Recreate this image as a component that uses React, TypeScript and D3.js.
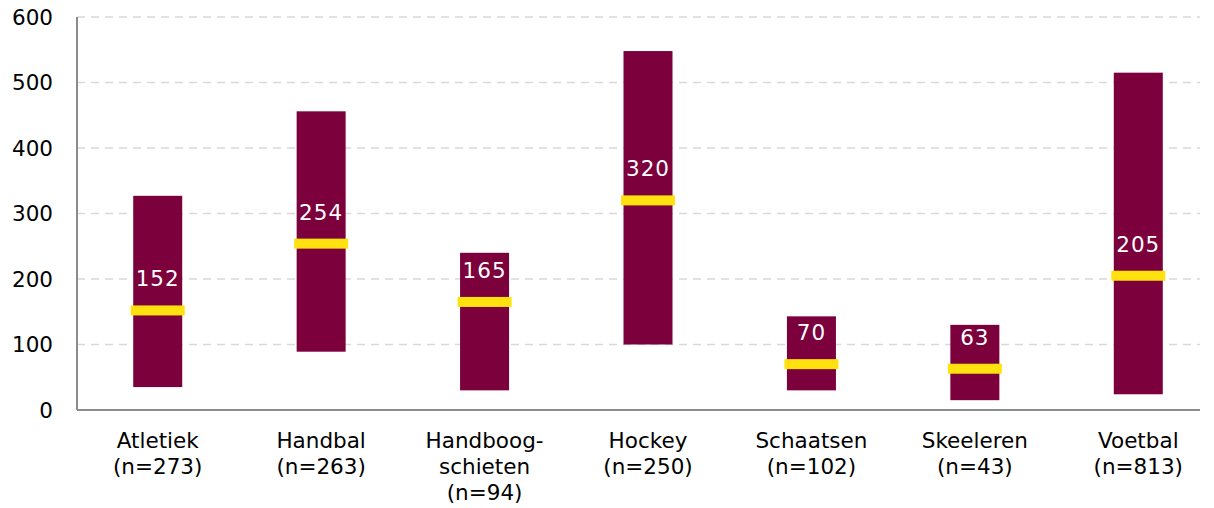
import React from "react";
import * as d3 from "d3";

const categories = [
  ["Atletiek", "(n=273)"],
  ["Handbal", "(n=263)"],
  ["Handboog-", "schieten", "(n=94)"],
  ["Hockey", "(n=250)"],
  ["Schaatsen", "(n=102)"],
  ["Skeeleren", "(n=43)"],
  ["Voetbal", "(n=813)"],
];
const lowValues = [35, 89, 30, 100, 30, 15, 24];
const highValues = [327, 456, 240, 548, 143, 130, 515];
const medianValues = [152, 254, 165, 320, 70, 63, 205];
const yTicks = [0, 100, 200, 300, 400, 500, 600];

const W = 1214;
const H = 508;
const margin = { left: 77, right: 14, top: 17, bottom: 98 };
const FONT = "'DejaVu Sans', Verdana, sans-serif";

export default function App() {
  const x = d3
    .scaleBand<number>()
    .domain(d3.range(categories.length))
    .range([76, 1220])
    .paddingInner(0)
    .paddingOuter(0);
  const y = d3.scaleLinear().domain([0, 600]).range([H - margin.bottom, margin.top]);
  const bw = x.bandwidth();
  const barW = 49;
  const medW = 54;

  return (
    <svg
      width={W}
      height={H}
      style={{ position: "absolute", left: 0, top: 0, background: "#fff" }}
      fontFamily={FONT}
    >
      {yTicks.map((t) => (
        <g key={t}>
          {t > 0 && (
            <line
              x1={margin.left}
              x2={W - margin.right}
              y1={y(t)}
              y2={y(t)}
              stroke="#d9d9d9"
              strokeWidth={1.5}
              strokeDasharray="8 6"
            />
          )}
          <text
            x={53}
            y={y(t)}
            dy="0.36em"
            textAnchor="end"
            fontSize={21.5}
            fill="#000"
          >
            {t}
          </text>
        </g>
      ))}
      <line
        x1={margin.left}
        x2={margin.left}
        y1={margin.top}
        y2={y(0)}
        stroke="#8c8c8c"
        strokeWidth={2}
      />
      <line
        x1={margin.left}
        x2={W - margin.right}
        y1={y(0)}
        y2={y(0)}
        stroke="#8c8c8c"
        strokeWidth={2}
      />
      {categories.map((c, i) => {
        const cx = (x(i) as number) + bw / 2;
        return (
          <g key={i}>
            <rect
              x={cx - barW / 2}
              width={barW}
              y={y(highValues[i])}
              height={y(lowValues[i]) - y(highValues[i])}
              fill="#7b003c"
            />
            <rect
              x={cx - medW / 2}
              width={medW}
              y={y(medianValues[i]) - 5}
              height={10}
              fill="#ffe10f"
            />
            <text
              x={cx}
              y={y(medianValues[i]) - 24}
              textAnchor="middle"
              fontSize={21.5}
              letterSpacing={1}
              fill="#fff"
            >
              {medianValues[i]}
            </text>
            {c.map((line, j) => (
              <text
                key={j}
                x={cx}
                y={y(0) + 38 + j * 26}
                textAnchor="middle"
                fontSize={21.5}
                fill="#000"
              >
                {line}
              </text>
            ))}
          </g>
        );
      })}
    </svg>
  );
}
